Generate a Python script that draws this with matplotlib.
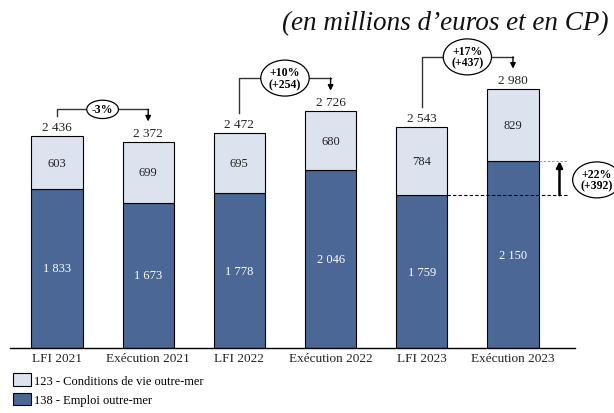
import matplotlib
matplotlib.use("Agg")
import matplotlib.pyplot as plt
from matplotlib.patches import Patch

# data (millions d'euros, CP)
categories = ["LFI 2021", "Exécution 2021", "LFI 2022", "Exécution 2022", "LFI 2023", "Exécution 2023"]
emploi = [1833, 1673, 1778, 2046, 1759, 2150]        # 138 - Emploi outre-mer
conditions = [603, 699, 695, 680, 784, 829]         # 123 - Conditions de vie outre-mer
totals = [2436, 2372, 2472, 2726, 2543, 2980]
pair_labels = ["-3%", "+10%\n(+254)", "+17%\n(+437)"]
side_label = "+22%\n(+392)"
legend_labels = ["123 - Conditions de vie outre-mer", "138 - Emploi outre-mer"]

DARK = "#4a6796"
LIGHT = "#dde3ee"
plt.rcParams["font.family"] = ["Liberation Serif", "DejaVu Serif"]


def fmt(v):
  return f"{v:,}".replace(",", " ")


fig = plt.figure(figsize=(6.14, 4.14), dpi=100)
ax = fig.add_axes([10 / 614, 65 / 414, 565 / 614, 319 / 414])
x = list(range(len(categories)))
w = 0.56

ax.bar(x, emploi, w, color=DARK, edgecolor="black", linewidth=0.8)
ax.bar(x, conditions, w, bottom=emploi, color=LIGHT, edgecolor="black", linewidth=0.8)

for i in x:
  ax.text(i, emploi[i] / 2, fmt(emploi[i]), ha="center", va="center", color="white", fontsize=9)
  ax.text(i, emploi[i] + conditions[i] / 2, fmt(conditions[i]), ha="center", va="center",
          color="#222222", fontsize=9)
  ax.text(i, totals[i] + 35, fmt(totals[i]), ha="center", va="bottom", color="#222222", fontsize=9.5)

# brackets between LFI and execution
offsets = [310, 380, 370]
for k in range(3):
  a, b = 2 * k, 2 * k + 1
  hy = max(totals[a], totals[b]) + offsets[k]
  ax.plot([a, a, b], [totals[a] + 230, hy, hy], color="#333333", lw=1, clip_on=False)
  ax.annotate("", xy=(b, totals[b] + 235), xytext=(b, hy),
              arrowprops=dict(arrowstyle="-|>", lw=1, color="black", mutation_scale=8,
                              shrinkA=0, shrinkB=0), annotation_clip=False)
  pad = 0.04 if k == 0 else 0.08
  ax.text((a + b) / 2, hy, pair_labels[k], ha="center", va="center", fontsize=8.5,
          fontweight="bold", linespacing=0.95,
          bbox=dict(boxstyle=f"ellipse,pad={pad}", fc="white", ec="black", lw=0.9))

# evolution of Emploi outre-mer between LFI 2023 and Execution 2023
x_side = 5.6
ax.plot([4 + w / 2, x_side], [emploi[4], emploi[4]], color="black", lw=0.8, ls=(0, (3, 2)), clip_on=False)
ax.plot([5 + w / 2, x_side], [emploi[5], emploi[5]], color="#888888", lw=0.6, ls=(0, (3, 2)), clip_on=False)
ax.annotate("", xy=(5.51, emploi[5]), xytext=(5.51, emploi[4]),
            arrowprops=dict(arrowstyle="-|>", lw=1.8, color="black", mutation_scale=9,
                            shrinkA=0, shrinkB=0), annotation_clip=False)
ax.text(5.92, (emploi[4] + emploi[5]) / 2 - 20, side_label, ha="center", va="center", fontsize=8.5,
        fontweight="bold", linespacing=0.95, clip_on=False,
        bbox=dict(boxstyle="ellipse,pad=0.08", fc="white", ec="black", lw=0.9))

ax.set_xlim(-0.515, 5.68)
ax.set_ylim(0, 3671)
ax.set_xticks(x)
ax.set_xticklabels(categories, fontsize=9.5, color="#222222")
ax.tick_params(axis="x", length=0, pad=3)
ax.set_yticks([])
for s in ["left", "right", "top"]:
  ax.spines[s].set_visible(False)
ax.spines["bottom"].set_linewidth(1)

fig.text(0.991, 0.944, "(en millions d\u2019euros et en CP)", ha="right", va="center",
         fontsize=19.5, style="italic", color="#111111")

handles = [Patch(facecolor=LIGHT, edgecolor="black", lw=0.8),
           Patch(facecolor=DARK, edgecolor="black", lw=0.8)]
fig.legend(handles, legend_labels, loc="upper left", bbox_to_anchor=(0.021, 0.096),
           frameon=False, fontsize=9, handlelength=1.45, handleheight=1.15,
           handletextpad=0.25, labelspacing=0.5, borderaxespad=0, borderpad=0)

fig.savefig("out.png", dpi=100)
